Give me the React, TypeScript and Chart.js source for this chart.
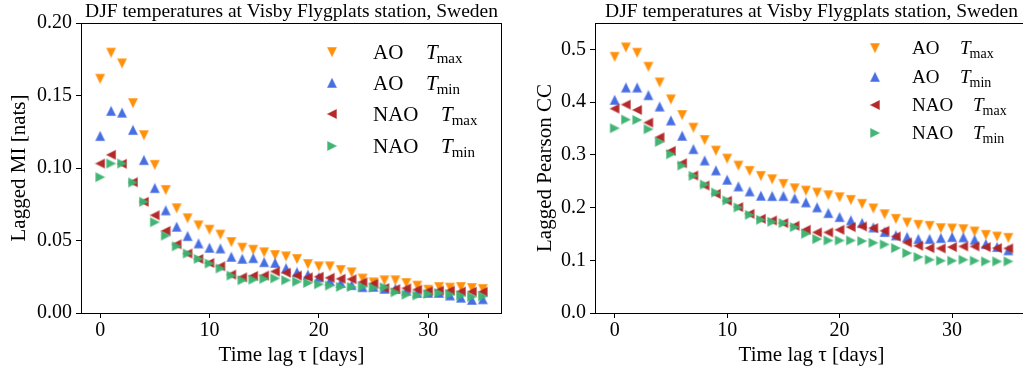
import React, { useEffect, useRef } from "react";
import { Chart, registerables } from "chart.js";

Chart.register(...registerables);

// ---------------- data ----------------
const lags = [0, 1, 2, 3, 4, 5, 6, 7, 8, 9, 10, 11, 12, 13, 14, 15, 16, 17, 18, 19, 20, 21, 22, 23, 24, 25, 26, 27, 28, 29, 30, 31, 32, 33, 34, 35];

const miAoTmax = [0.1616, 0.1796, 0.1722, 0.1448, 0.1227, 0.1022, 0.0849, 0.0723, 0.0654, 0.0605, 0.0575, 0.0541, 0.049, 0.0451, 0.0437, 0.0419, 0.040, 0.0391, 0.0373, 0.0338, 0.0322, 0.0322, 0.0297, 0.0281, 0.0238, 0.0212, 0.0226, 0.0226, 0.0207, 0.0189, 0.0161, 0.018, 0.0175, 0.018, 0.0173, 0.0166];
const miAoTmin = [0.122, 0.1393, 0.1381, 0.1262, 0.1054, 0.0861, 0.0707, 0.0594, 0.053, 0.0479, 0.0449, 0.0444, 0.0387, 0.0373, 0.0378, 0.035, 0.0345, 0.0308, 0.0281, 0.0263, 0.0245, 0.0221, 0.0207, 0.0192, 0.0178, 0.018, 0.0166, 0.0166, 0.0154, 0.0138, 0.0138, 0.0138, 0.012, 0.0105, 0.009, 0.0094];
const miNaoTmax = [0.1031, 0.1091, 0.1029, 0.0902, 0.0767, 0.0674, 0.0566, 0.0474, 0.041, 0.0373, 0.0345, 0.0322, 0.0265, 0.0246, 0.0256, 0.0258, 0.0286, 0.0278, 0.0258, 0.0246, 0.025, 0.0243, 0.0236, 0.0233, 0.0212, 0.0202, 0.0172, 0.0165, 0.017, 0.0161, 0.015, 0.0155, 0.0154, 0.0148, 0.0147, 0.0146];
const miNaoTmin = [0.0937, 0.1031, 0.1031, 0.09, 0.0767, 0.0626, 0.0534, 0.046, 0.041, 0.0373, 0.0341, 0.0307, 0.0258, 0.0226, 0.023, 0.0235, 0.0239, 0.0226, 0.0216, 0.0207, 0.0198, 0.0189, 0.018, 0.018, 0.0182, 0.0175, 0.0178, 0.0143, 0.0126, 0.0121, 0.0132, 0.0138, 0.0129, 0.012, 0.0112, 0.0115];

const ccAoTmax = [0.486, 0.5038, 0.4937, 0.4672, 0.4375, 0.4053, 0.3756, 0.3516, 0.3283, 0.3081, 0.2929, 0.2797, 0.2696, 0.2601, 0.2538, 0.2449, 0.2367, 0.2323, 0.2285, 0.2235, 0.2197, 0.2146, 0.2071, 0.1985, 0.1875, 0.1787, 0.1717, 0.1673, 0.1654, 0.161, 0.1604, 0.1591, 0.1547, 0.1484, 0.1452, 0.1427];
const ccAoTmin = [0.404, 0.4274, 0.4274, 0.4129, 0.3914, 0.3649, 0.3359, 0.3106, 0.2891, 0.2702, 0.2525, 0.2399, 0.2304, 0.2222, 0.2216, 0.2216, 0.2172, 0.2096, 0.2001, 0.1894, 0.1818, 0.1755, 0.1705, 0.162, 0.1534, 0.1471, 0.1439, 0.1402, 0.1402, 0.142, 0.1439, 0.1433, 0.1389, 0.1307, 0.125, 0.1187];
const ccNaoTmax = [0.3876, 0.3952, 0.3851, 0.3611, 0.3333, 0.3074, 0.2841, 0.2607, 0.2418, 0.226, 0.2128, 0.2008, 0.1881, 0.1787, 0.1755, 0.1705, 0.1654, 0.1578, 0.1528, 0.1528, 0.1578, 0.1629, 0.1641, 0.161, 0.1559, 0.1452, 0.1338, 0.1275, 0.1231, 0.1225, 0.125, 0.1263, 0.1263, 0.125, 0.1231, 0.1225];
const ccNaoTmin = [0.3504, 0.3668, 0.3662, 0.3485, 0.3245, 0.3011, 0.2797, 0.2601, 0.2437, 0.2285, 0.2134, 0.2001, 0.1862, 0.1768, 0.173, 0.1705, 0.1629, 0.1503, 0.1402, 0.1376, 0.1376, 0.1376, 0.1364, 0.1332, 0.13, 0.1231, 0.1136, 0.1061, 0.101, 0.0991, 0.0991, 0.101, 0.0991, 0.0979, 0.0979, 0.0979];

const seriesIndex = ["AO", "AO", "NAO", "NAO"];
const seriesVar = ["max", "min", "max", "min"];
const seriesColors = ["255,140,0", "65,105,225", "178,34,34", "60,179,113"];
const seriesMarkers = ["down", "up", "left", "right"];

const xTicks = [0, 10, 20, 30];
const miTicks = [0, 0.05, 0.1, 0.15, 0.2];
const ccTicks = [0, 0.1, 0.2, 0.3, 0.4, 0.5];

const titleText = "DJF temperatures at Visby Flygplats station, Sweden";
const xLabel = "Time lag \u03c4 [days]";
const miLabel = "Lagged MI [nats]";
const ccLabel = "Lagged Pearson CC";

// ---------------- helpers ----------------
const FONT = '"Liberation Serif", "DejaVu Serif", serif';

function makeMarker(kind: string, rgb: string): HTMLCanvasElement {
  const c = document.createElement("canvas");
  c.width = 12;
  c.height = 12;
  const ctx = c.getContext("2d")!;
  const cx = 6, cy = 6, h = 4.4;
  let pts: number[][] = [];
  if (kind === "down") pts = [[cx - h, cy - h], [cx + h, cy - h], [cx, cy + h]];
  if (kind === "up") pts = [[cx - h, cy + h], [cx + h, cy + h], [cx, cy - h]];
  if (kind === "left") pts = [[cx + h, cy - h], [cx + h, cy + h], [cx - h, cy]];
  if (kind === "right") pts = [[cx - h, cy - h], [cx - h, cy + h], [cx + h, cy]];
  ctx.beginPath();
  ctx.moveTo(pts[0][0], pts[0][1]);
  ctx.lineTo(pts[1][0], pts[1][1]);
  ctx.lineTo(pts[2][0], pts[2][1]);
  ctx.closePath();
  ctx.strokeStyle = `rgba(${rgb},0.45)`;
  ctx.lineWidth = 1.2;
  ctx.stroke();
  ctx.fillStyle = `rgba(${rgb},0.97)`;
  ctx.fill();
  return c;
}

type PanelProps = {
  width: number;
  left: number;
  series: number[][];
  yMax: number;
  yTicks: number[];
  decimals: number;
  yLabel: string;
  yAxisWidth: number;
  yTitlePad: number;
  padRight: number;
  legend: { mx: number; rows: number[]; textX: number; tX: number[]; fs: number; sub: number };
};

function Panel(p: PanelProps) {
  const ref = useRef<HTMLCanvasElement | null>(null);
  useEffect(() => {
    const canvas = ref.current!;
    const markers = seriesMarkers.map((m, i) => makeMarker(m, seriesColors[i]));

    const deco = {
      id: "deco",
      afterDraw(chart: any) {
        const ctx = chart.ctx as CanvasRenderingContext2D;
        const a = chart.chartArea;
        ctx.save();
        // frame
        ctx.strokeStyle = "#000";
        ctx.lineWidth = 1;
        ctx.strokeRect(a.left + 0.5, a.top + 0.5, a.right - a.left - 1, a.bottom - a.top);
        // title
        ctx.fillStyle = "#000";
        ctx.font = `17px ${FONT}`;
        const w0 = ctx.measureText(titleText).width;
        const fsT = 17 * 413 / w0;
        ctx.font = `${fsT}px ${FONT}`;
        ctx.textAlign = "center";
        ctx.textBaseline = "alphabetic";
        ctx.fillText(titleText, (a.left + a.right) / 2, 17);
        // legend
        const L = p.legend;
        ctx.textAlign = "left";
        for (let i = 0; i < 4; i++) {
          const y = L.rows[i];
          ctx.drawImage(markers[i], L.mx - 6, y - 6);
          const base = y + L.fs * 0.33;
          ctx.font = `${L.fs}px ${FONT}`;
          ctx.fillText(seriesIndex[i], L.textX, base);
          ctx.font = `italic ${L.fs}px ${FONT}`;
          ctx.fillText("T", L.tX[i], base);
          const tw = ctx.measureText("T").width;
          ctx.font = `${L.sub}px ${FONT}`;
          ctx.fillText(seriesVar[i], L.tX[i] + tw - 1, base + L.fs * 0.17);
        }
        ctx.restore();
      },
    };

    const chart = new Chart(canvas, {
      type: "scatter",
      data: {
        datasets: p.series.map((vals, i) => ({
          label: `${seriesIndex[i]} T${seriesVar[i]}`,
          data: lags.map((x, j) => ({ x, y: vals[j] })),
          pointStyle: markers[i] as any,
          pointRadius: 5,
          order: 4 - i,
        })),
      },
      options: {
        animation: false,
        responsive: false,
        devicePixelRatio: 1,
        events: [],
        layout: { autoPadding: false, padding: { top: 23, right: p.padRight, left: 0, bottom: 0 } },
        plugins: { legend: { display: false }, tooltip: { enabled: false }, title: { display: false } },
        scales: {
          x: {
            type: "linear",
            min: -1.75,
            max: 36.75,
            border: { display: false },
            grid: { display: true, drawOnChartArea: false, drawTicks: true, tickLength: 5, color: "#000" },
            ticks: {
              color: "#000",
              padding: 1,
              font: { family: FONT, size: 20, lineHeight: 1.2 },
              callback: (v: any) => String(v),
              maxRotation: 0,
            },
            afterBuildTicks: (s: any) => { s.ticks = xTicks.map((v) => ({ value: v })); },
            afterFit: (s: any) => { s.height = 59; },
            title: {
              display: true,
              text: xLabel,
              color: "#000",
              font: { family: FONT, size: 21, lineHeight: 1.2 },
              padding: { top: 0, bottom: 4 },
            },
          },
          y: {
            type: "linear",
            min: 0,
            max: p.yMax,
            border: { display: false },
            grid: { display: true, drawOnChartArea: false, drawTicks: true, tickLength: 5, color: "#000" },
            ticks: {
              color: "#000",
              padding: 4,
              font: { family: FONT, size: 20, lineHeight: 1.2 },
              callback: (v: any) => Number(v).toFixed(p.decimals),
            },
            afterBuildTicks: (s: any) => { s.ticks = p.yTicks.map((v) => ({ value: v })); },
            afterFit: (s: any) => { s.width = p.yAxisWidth; },
            title: {
              display: true,
              text: p.yLabel,
              color: "#000",
              font: { family: FONT, size: 21, lineHeight: 1.2 },
              padding: { top: p.yTitlePad, bottom: 0 },
            },
          },
        },
      },
      plugins: [deco],
    } as any);
    return () => chart.destroy();
  }, []);
  return (
    <canvas
      ref={ref}
      width={p.width}
      height={372}
      style={{ position: "absolute", left: p.left, top: 0, width: p.width, height: 372 }}
    />
  );
}

export default function App() {
  return (
    <div style={{ position: "fixed", left: 0, top: 0, width: 1023, height: 372, overflow: "hidden", background: "#fff" }}>
      <Panel
        width={520}
        left={0}
        series={[miAoTmax, miAoTmin, miNaoTmax, miNaoTmin]}
        yMax={0.2}
        yTicks={miTicks}
        decimals={2}
        yLabel={miLabel}
        yAxisWidth={81}
        yTitlePad={7}
        padRight={18}
        legend={{ mx: 332, rows: [52, 83, 114, 146], textX: 373, tX: [426, 426, 441, 441], fs: 21, sub: 15 }}
      />
      <Panel
        width={520}
        left={520}
        series={[ccAoTmax, ccAoTmin, ccNaoTmax, ccNaoTmin]}
        yMax={0.55}
        yTicks={ccTicks}
        decimals={1}
        yLabel={ccLabel}
        yAxisWidth={75}
        yTitlePad={13}
        padRight={12}
        legend={{ mx: 355, rows: [48, 77, 105, 133], textX: 392, tX: [440, 440, 453, 453], fs: 19, sub: 14 }}
      />
    </div>
  );
}
